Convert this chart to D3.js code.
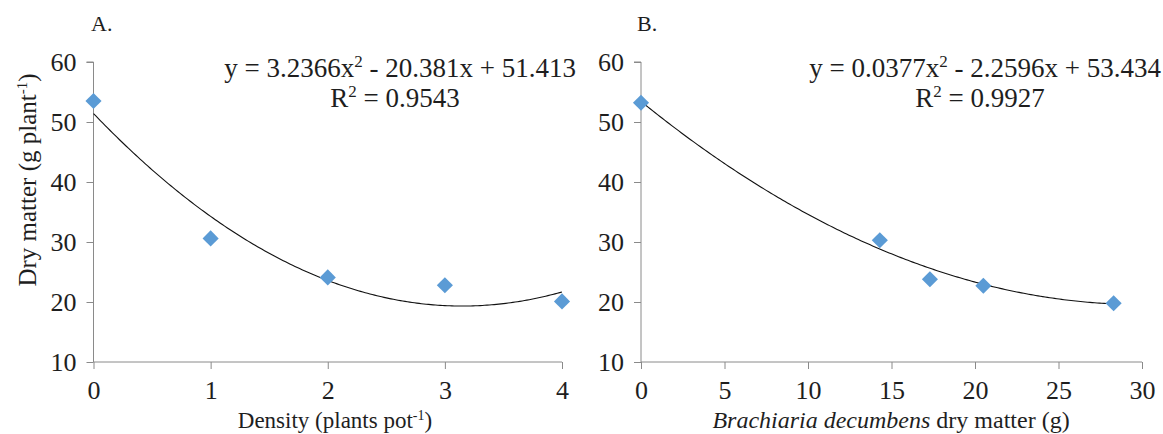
<!DOCTYPE html>
<html><head><meta charset="utf-8">
<script src="https://cdn.jsdelivr.net/npm/d3@7"></script>
<style>body{margin:0;background:#fff}svg text{font-family:"Liberation Serif","Times New Roman",serif;fill:#1e1e1e}</style>
</head><body><svg id="c" width="1163" height="434"></svg>
<script>
// Panel A data
const densityX = [0, 1, 2, 3, 4];
const dryMatterA = [53.5, 30.6, 24.1, 22.8, 20.1];
const coefA = [3.2366, -20.381, 51.413];
// Panel B data
const brachiariaX = [0, 14.3, 17.3, 20.5, 28.3];
const dryMatterB = [53.2, 30.3, 23.8, 22.7, 19.8];
const coefB = [0.0377, -2.2596, 53.434];
// ticks
const yTicks = [10, 20, 30, 40, 50, 60];
const xTicksA = [0, 1, 2, 3, 4];
const xTicksB = [0, 5, 10, 15, 20, 25, 30];

const FONT = '"Liberation Serif", "Times New Roman", serif';
const svg = d3.select("#c");
const yTop = 62, yBot = 362;

function panel(opts){
  const g = svg.append("g");
  const x = d3.scaleLinear().domain(opts.xDomain).range(opts.xRange);
  const y = d3.scaleLinear().domain([10, 60]).range([yBot, yTop]);
  const ya = g.append("g").attr("transform", `translate(${opts.xRange[0]},0)`)
    .call(d3.axisLeft(y).tickValues(yTicks).tickSize(7).tickPadding(10).tickFormat(d3.format("d")));
  const xa = g.append("g").attr("transform", `translate(0,${yBot})`)
    .call(d3.axisBottom(x).tickValues(opts.xTicks).tickSize(7).tickPadding(12).tickFormat(d3.format("d")));
  [ya, xa].forEach(a => {
    a.select(".domain").attr("stroke", "#8a8a8a").attr("stroke-width", 1);
    a.selectAll(".tick line").attr("stroke", "#8a8a8a");
    a.selectAll(".tick text").attr("font-size", 26).style("font-family", FONT).attr("fill", "#1e1e1e");
  });
  ya.select(".domain").attr("d", `M-7,${y(60)}H0V${y(10)}`);
  xa.select(".domain").attr("d", `M${opts.xRange[0]},0H${opts.xRange[1]}`);
  // trend line
  const [a, b, c] = opts.coef;
  const xs = d3.range(0, 201).map(i => opts.fitRange[0] + (opts.fitRange[1] - opts.fitRange[0]) * i / 200);
  g.append("path").datum(xs)
    .attr("d", d3.line().x(d => x(d)).y(d => y(a * d * d + b * d + c)))
    .attr("fill", "none").attr("stroke", "#111").attr("stroke-width", 1.1);
  // points
  const sym = d3.symbol().type(d3.symbolSquare).size(130)();
  g.selectAll("path.pt").data(opts.xs).enter().append("path").attr("class", "pt")
    .attr("d", sym)
    .attr("transform", (d, i) => `translate(${x(d)},${y(opts.ys[i])}) rotate(45)`)
    .attr("fill", "#5b9bd5");
  // panel letter
  g.append("text").attr("x", opts.letterX).attr("y", 31).attr("font-size", 22).text(opts.letter);
  // equation
  const eq = g.append("text").attr("x", opts.eqX).attr("y", 77).attr("font-size", 27).attr("text-anchor", "end");
  eq.append("tspan").text(opts.eq[0]);
  eq.append("tspan").attr("dy", -10).attr("font-size", 17).text("2");
  eq.append("tspan").attr("dy", 10).text(opts.eq[1]);
  const r2 = g.append("text").attr("x", opts.r2X).attr("y", 107).attr("font-size", 27).attr("text-anchor", "middle");
  r2.append("tspan").text("R");
  r2.append("tspan").attr("dy", -10).attr("font-size", 17).text("2");
  r2.append("tspan").attr("dy", 10).text(opts.r2);
  return {x, y, g};
}

panel({xDomain:[0,4], xRange:[93.5,562], xTicks:xTicksA, coef:coefA, fitRange:[0,4],
  xs:densityX, ys:dryMatterA, letter:"A.", letterX:91,
  eq:["y = 3.2366x", " - 20.381x + 51.413"], eqX:576, r2:" = 0.9543", r2X:395});
panel({xDomain:[0,30], xRange:[641,1142], xTicks:xTicksB, coef:coefB, fitRange:[0,28.3],
  xs:brachiariaX, ys:dryMatterB, letter:"B.", letterX:637,
  eq:["y = 0.0377x", " - 2.2596x + 53.434"], eqX:1161, r2:" = 0.9927", r2X:980});

// axis titles
const yt = svg.append("text").attr("transform", "translate(36,180) rotate(-90)")
  .attr("text-anchor", "middle").attr("font-size", 25);
yt.append("tspan").text("Dry matter (g plant");
yt.append("tspan").attr("dy", -9).attr("font-size", 15).text("-1");
yt.append("tspan").attr("dy", 9).text(")");

const xtA = svg.append("text").attr("x", 335).attr("y", 428).attr("text-anchor", "middle").attr("font-size", 23);
xtA.append("tspan").text("Density (plants pot");
xtA.append("tspan").attr("dy", -8).attr("font-size", 14).text("-1");
xtA.append("tspan").attr("dy", 8).text(")");

const xtB = svg.append("text").attr("x", 891).attr("y", 428).attr("text-anchor", "middle").attr("font-size", 24);
xtB.append("tspan").attr("font-style", "italic").text("Brachiaria decumbens");
xtB.append("tspan").text(" dry matter (g)");
</script></body></html>
